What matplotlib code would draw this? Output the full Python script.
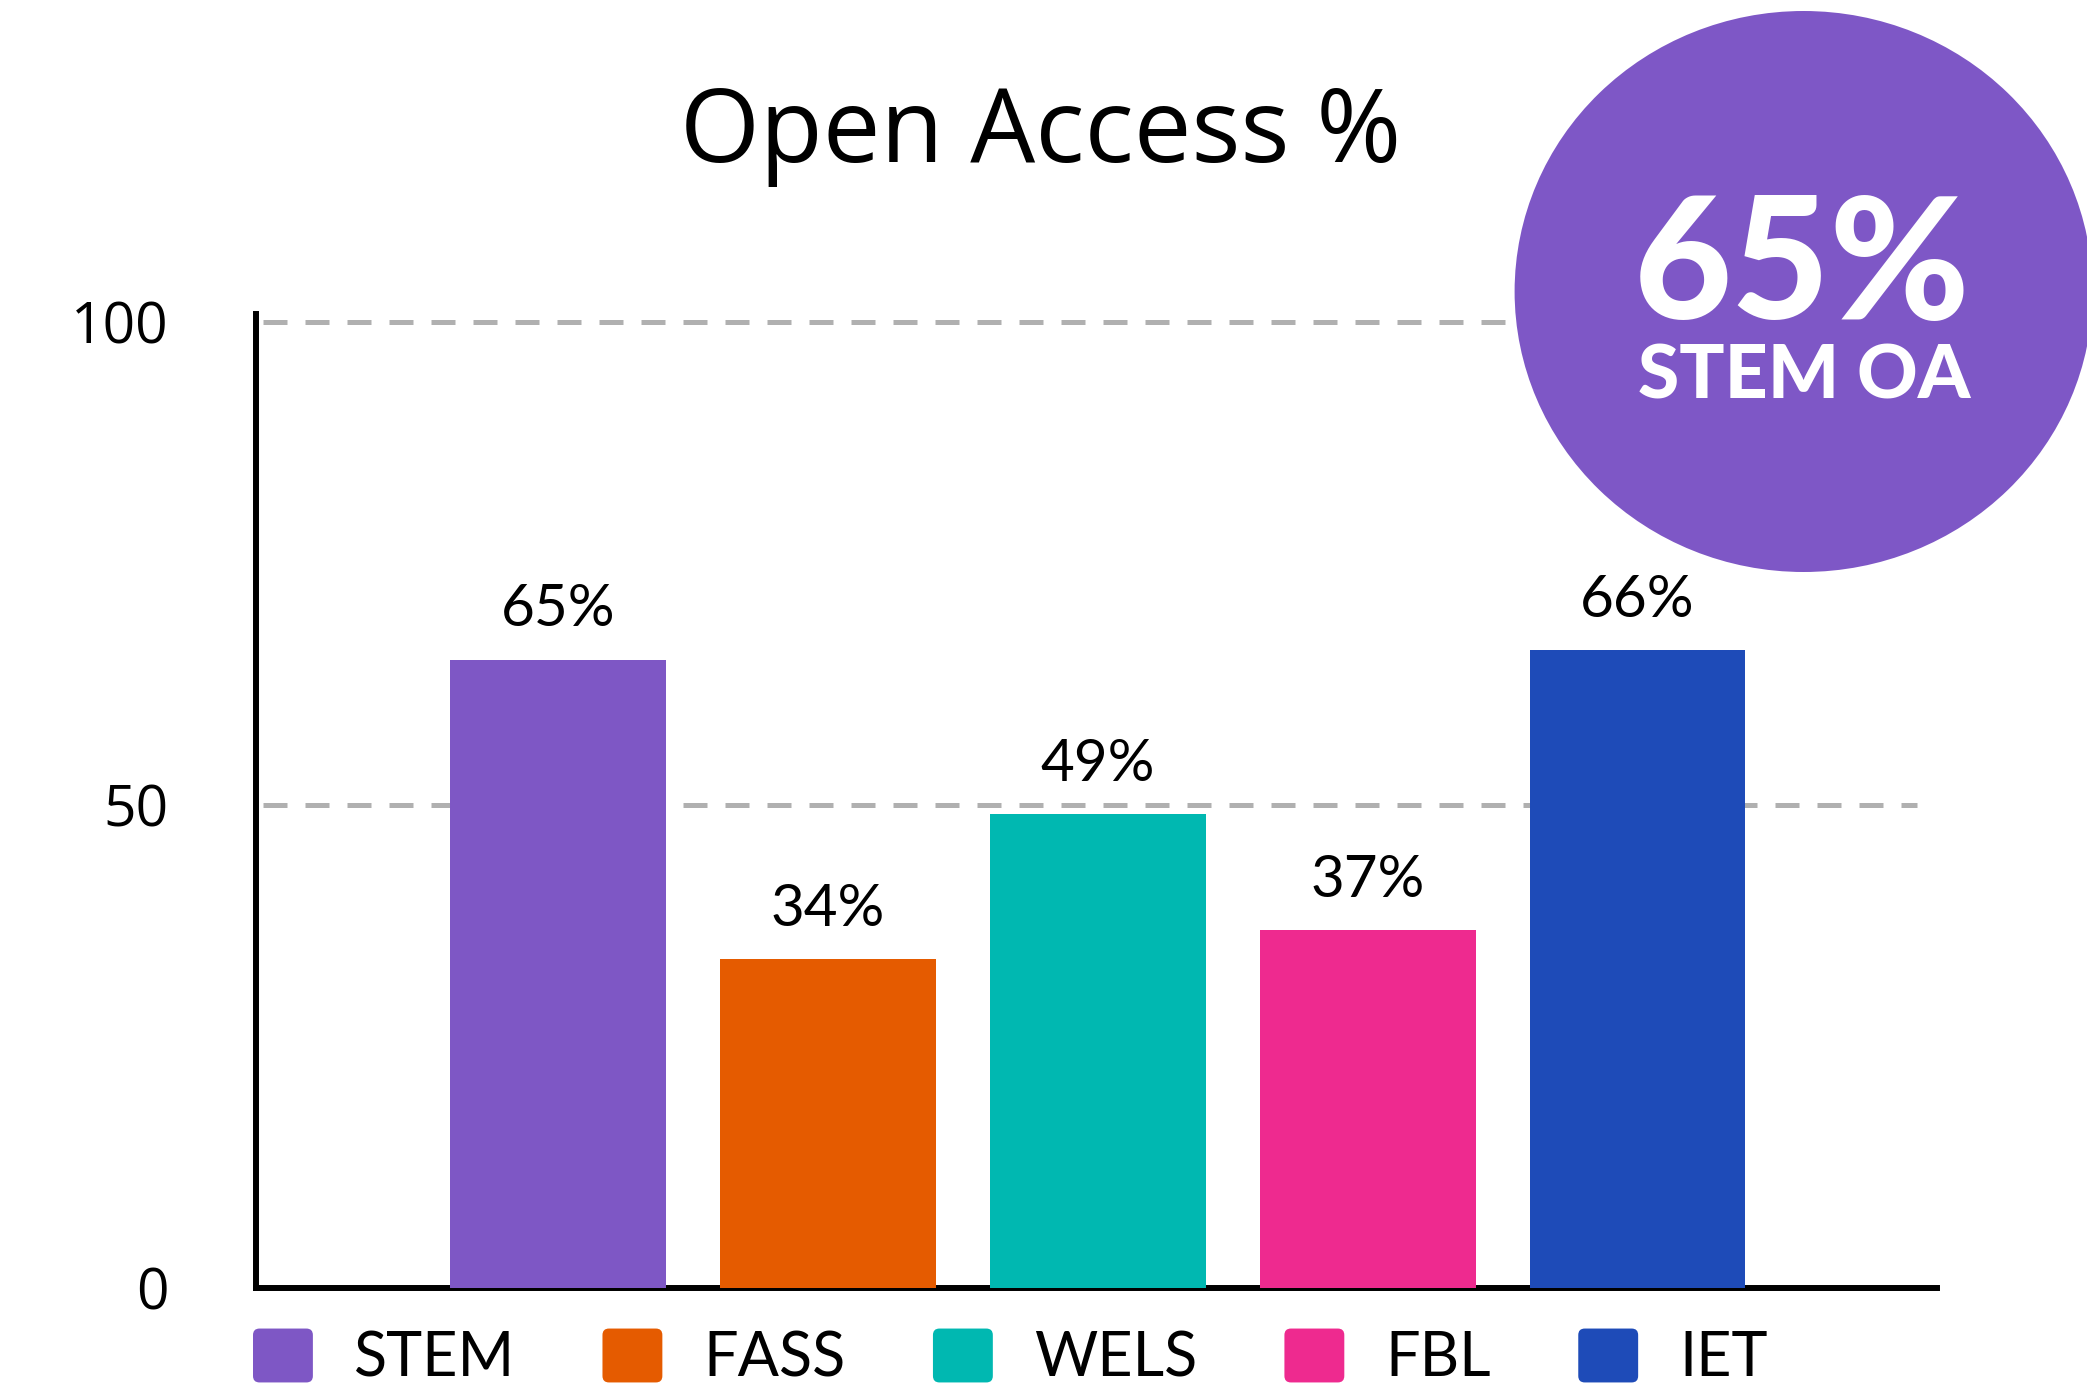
import matplotlib
matplotlib.use('Agg')
import matplotlib.pyplot as plt
from matplotlib.patches import FancyBboxPatch, Ellipse, Patch
from matplotlib.legend_handler import HandlerBase

categories = ['STEM', 'FASS', 'WELS', 'FBL', 'IET']
values = [65, 34, 49, 37, 66]
colors = ['#7E57C5', '#E55B00', '#00B8B1', '#EE2A8F', '#1E4BB8']
value_labels = ['65%', '34%', '49%', '37%', '66%']
yticks = [0, 50, 100]
title = 'Open Access %'
badge_value = '65%'
badge_label = 'STEM OA'

W, H = 2087, 1400
fig = plt.figure(figsize=(W / 100, H / 100), dpi=100)
ax = fig.add_axes([256 / W, 1 - 1287.5 / H, (1937 - 256) / W, (1287.5 - 314) / H])

x = list(range(len(categories)))
bars = ax.bar(x, values, width=0.8, color=colors, zorder=3)
ax.set_xlim(-1.12, len(categories) - 1 + 1.11)
ax.set_ylim(0, 100.8)

for yv in yticks[1:]:
    ax.axhline(yv, xmin=0.004, xmax=0.988, color='#B0B0B0', lw=3.6,
               dashes=(4.8, 3.6), zorder=1, clip_on=False)

for rect, lab in zip(bars, value_labels):
    ax.annotate(lab, (rect.get_x() + rect.get_width() / 2, rect.get_height()),
                xytext=(0, 24), textcoords='offset points', ha='center',
                va='baseline', fontsize=42, family='Lato', color='black')

for s in ['top', 'right']:
    ax.spines[s].set_visible(False)
for s in ['left', 'bottom']:
    ax.spines[s].set_linewidth(4.3)
    ax.spines[s].set_color('black')
ax.set_xticks([])
ax.set_yticks(yticks)
ax.set_yticklabels([str(v) for v in yticks], family='Open Sans')
ax.tick_params(axis='y', length=0, pad=63, labelsize=41)


class RoundHandler(HandlerBase):
    def create_artists(self, legend, orig_handle, xdescent, ydescent, width,
                       height, fontsize, trans):
        r = 0.12 * height
        p = FancyBboxPatch((-xdescent + r, -ydescent + r), width - 2 * r,
                           height - 2 * r,
                           boxstyle=f'round,pad={r},rounding_size={r}',
                           facecolor=orig_handle.get_facecolor(),
                           edgecolor='none', transform=trans)
        return [p]


handles = [Patch(facecolor=c) for c in colors]
leg = fig.legend(handles, categories, loc='center left',
                 bbox_to_anchor=(253 / W, 1 - 1358 / H), ncol=5, frameon=False,
                 prop={'family': 'Lato', 'size': 44}, borderpad=0,
                 borderaxespad=0, handlelength=0.98, handleheight=0.98,
                 handletextpad=0.67, columnspacing=1.43,
                 handler_map={Patch: RoundHandler()})

fig.add_artist(Ellipse((1803.6 / W, 1 - 291.5 / H), 578 / W, 561 / H,
                       transform=fig.transFigure, facecolor='#7E57C6',
                       edgecolor='none', zorder=5))
fig.text(1802 / W, 1 - 319 / H, badge_value, ha='center', va='baseline',
         fontsize=122, weight=900, family='Lato', color='white', zorder=6)
fig.text(1804 / W, 1 - 399 / H, badge_label, ha='center', va='baseline',
         fontsize=54, weight=900, family='Lato', color='white', zorder=6)

fig.text(1041 / W, 1 - 162 / H, title, ha='center', va='baseline',
         fontsize=74, family='Open Sans', color='black')

fig.savefig('out.png', dpi=100, facecolor='white')
